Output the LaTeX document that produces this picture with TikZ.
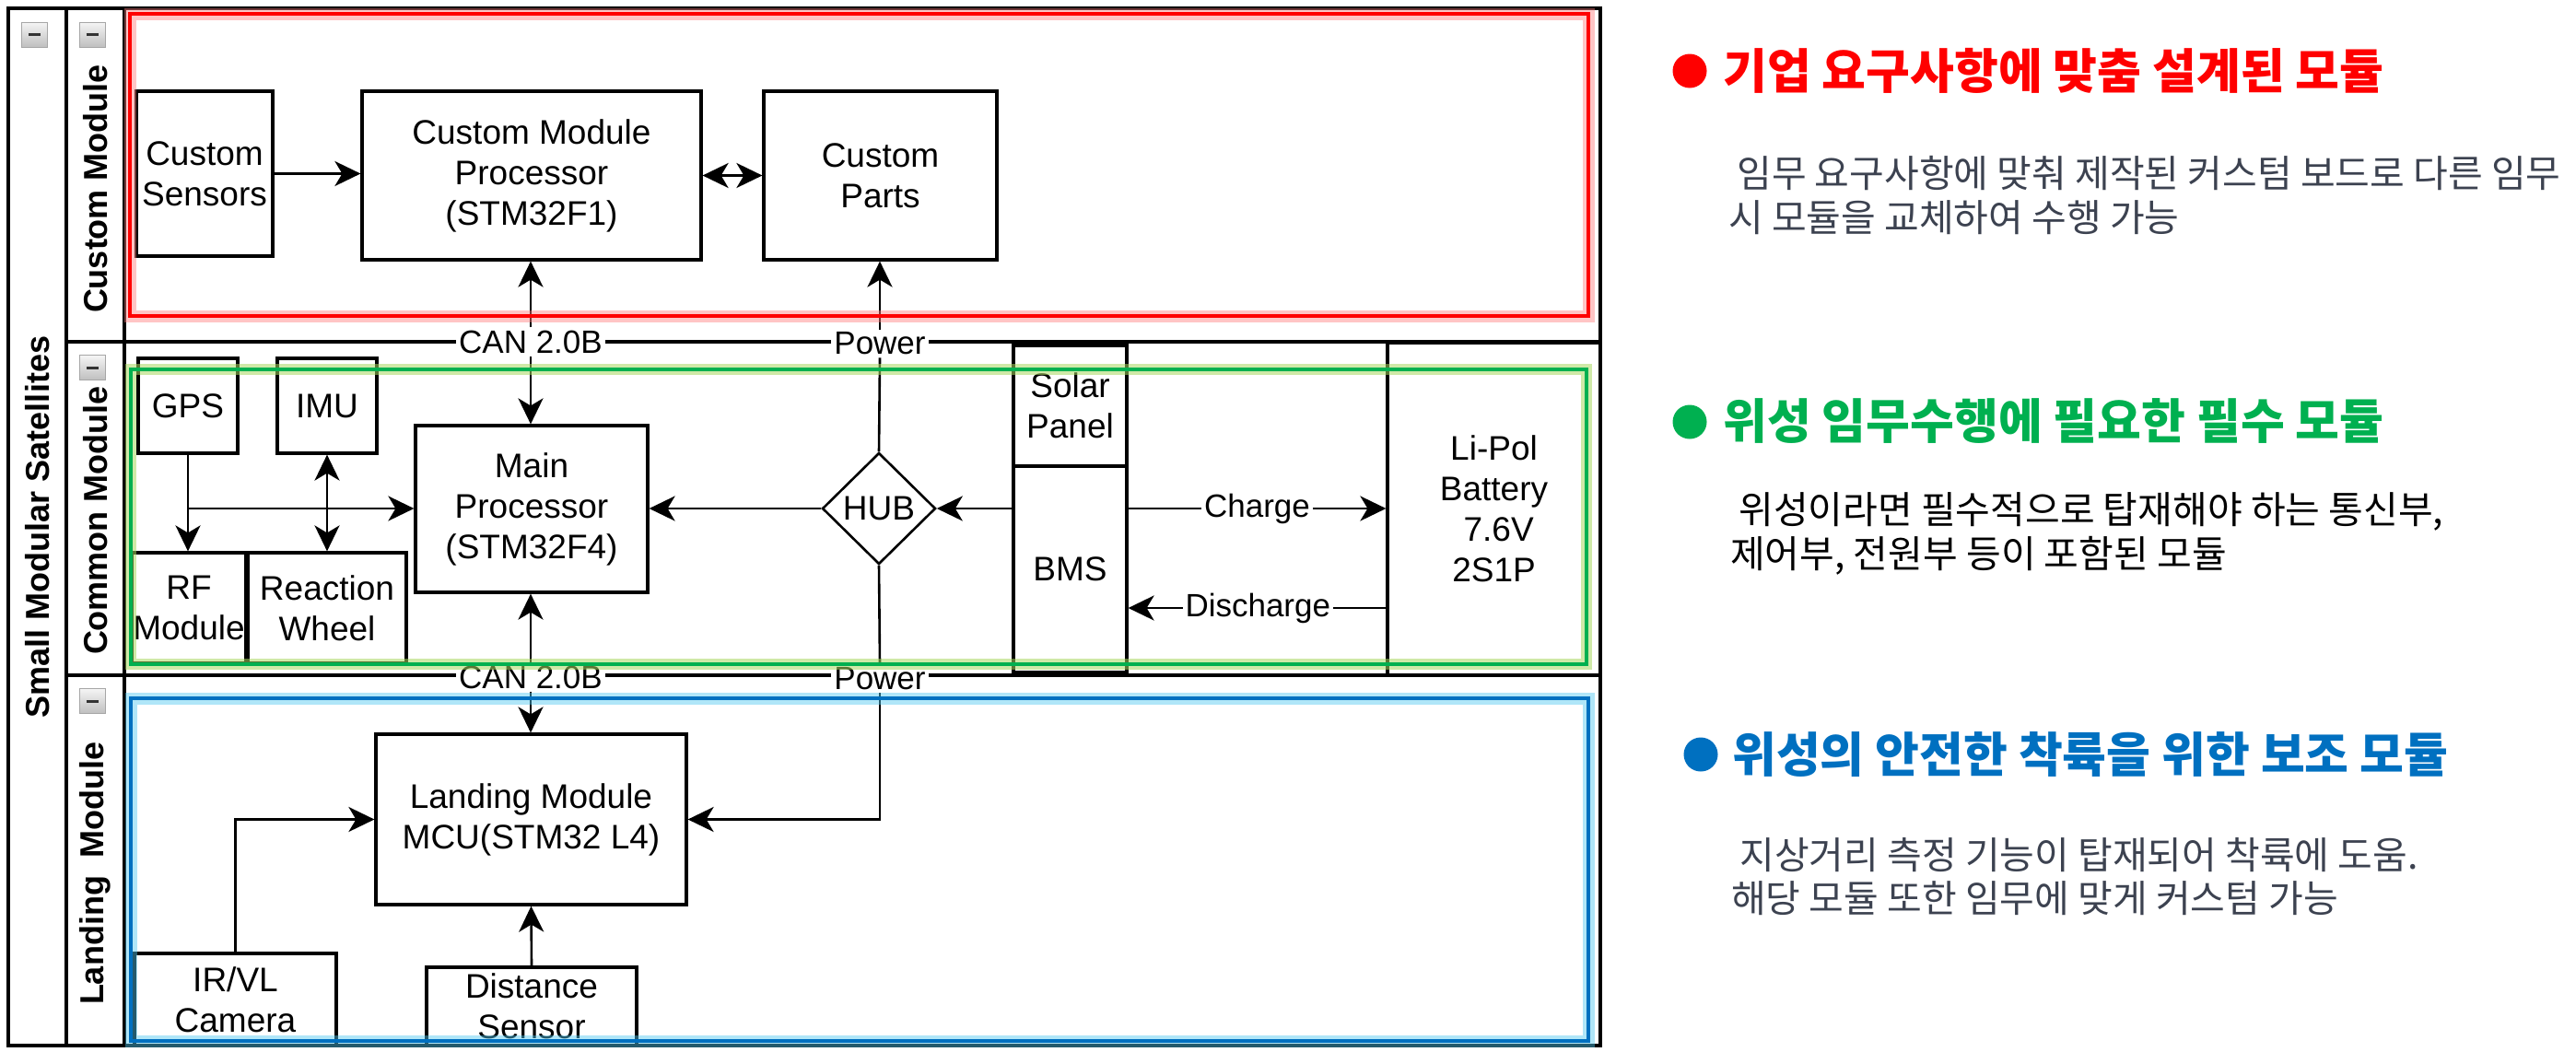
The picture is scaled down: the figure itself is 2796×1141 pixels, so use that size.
\documentclass[tikz,border=0pt]{standalone}
\usepackage{fontspec}
\setmainfont{Liberation Sans}
\newfontfamily\kr{Noto Sans CJK KR}
\usetikzlibrary{arrows.meta,shapes.geometric,calc}
\definecolor{cred}{HTML}{FF0000}
\definecolor{cgreen}{HTML}{00B050}
\definecolor{cblue}{HTML}{0070C0}
\definecolor{gred}{HTML}{FF8080}
\definecolor{ggreen}{HTML}{A8D860}
\definecolor{gblue}{HTML}{50C8F0}
\definecolor{bodygray}{HTML}{3C4250}
\newcommand{\dfont}{\fontsize{37}{44}\selectfont}
\newcommand{\efont}{\fontsize{35}{42}\selectfont}
\newcommand{\lfont}{\bfseries\fontsize{36}{43}\selectfont}
\newcommand{\hfont}{\kr\bfseries\fontsize{52}{60}\selectfont}
\newcommand{\bfont}{\kr\fontsize{41}{48}\selectfont}
\begin{document}
\begin{tikzpicture}[x=1pt,y=-1pt,
  blk/.style={draw=black, line width=3.2pt, fill=white, font=\dfont, align=center, inner sep=0pt},
  frm/.style={line width=3.2pt, draw=black},
  ln/.style={line width=2.6pt},
  arr/.style={line width=2.6pt, -{Stealth[length=28pt,width=27pt,inset=8pt]}},
  darr/.style={line width=2.6pt, {Stealth[length=28pt,width=27pt,inset=8pt]}-{Stealth[length=28pt,width=27pt,inset=8pt]}},
  lbl/.style={fill=white, font=\efont, inner sep=3pt},
  lane/.style={rotate=90, font=\lfont, inner sep=0pt},
  icon/.style={draw=gray!70, line width=1pt, top color=gray!8, bottom color=gray!50, minimum width=28pt, minimum height=27pt, inner sep=0pt},
  head/.style={anchor=base west, inner sep=0pt, font=\hfont},
  body/.style={anchor=base west, inner sep=0pt, font=\bfont},
]
\useasboundingbox (0,0) rectangle (2796,1141);
\fill[white] (0,0) rectangle (2796,1141);

% ---------- swimlane frame ----------
\draw[frm] (9,9) rectangle (1737,1135);
\draw[frm] (72,9) -- (72,1135);
\draw[frm] (135,9) -- (135,1135);
\draw[frm] (72,371) -- (1737,371);
\draw[frm] (72,733) -- (1737,733);

% collapse icons
\node[icon] (ic0) at (37.5,37.5) {\textcolor{black!80}{\rule[-1.5pt]{13pt}{3pt}}};
\node[icon] (ic1) at (100,37.5) {\textcolor{black!80}{\rule[-1.5pt]{13pt}{3pt}}};
\node[icon] (ic2) at (100,399) {\textcolor{black!80}{\rule[-1.5pt]{13pt}{3pt}}};
\node[icon] (ic3) at (100,761) {\textcolor{black!80}{\rule[-1.5pt]{13pt}{3pt}}};

% lane labels
\node[lane] (lsat) at (40.5,572) {Small Modular Satellites};
\node[lane] (lcus) at (103.5,205) {Custom Module};
\node[lane] (lcom) at (103.5,565) {Common Module};
\node[lane] (llan) at (103.5,948) {Landing\hspace{20pt}Module};

% ---------- Custom module ----------
\node[blk, minimum width=148pt, minimum height=179pt] (cs) at (222,188.5) {Custom\\Sensors};
\node[blk, minimum width=368pt, minimum height=183pt] (cmp) at (577,190.5) {Custom Module\\Processor\\(STM32F1)};
\node[blk, minimum width=253pt, minimum height=183pt] (cp) at (955.5,190.5) {Custom\\Parts};

% ---------- Common module ----------
\node[blk, minimum width=108pt, minimum height=103pt] (gps) at (204,440.5) {GPS};
\node[blk, minimum width=108pt, minimum height=103pt] (imu) at (355,440.5) {IMU};
\node[blk, minimum width=252pt, minimum height=181pt] (mp) at (577,552.5) {Main\\Processor\\(STM32F4)};
\node[blk, minimum width=124pt, minimum height=120pt] (rf) at (205,660) {RF\\Module};
\node[blk, minimum width=172pt, minimum height=120pt] (rw) at (355,660) {Reaction\\Wheel};
\node[draw=black, diamond, line width=2.6pt, fill=white, minimum width=123pt, minimum height=121pt, inner sep=0pt, font=\dfont] (hub) at (954,552) {HUB};
\node[blk, minimum width=123pt, minimum height=131pt] (sp) at (1161.5,440.5) {Solar\\Panel};
\node[blk, minimum width=123pt, minimum height=224pt] (bms) at (1161.5,618) {BMS};
\node[blk, minimum width=231pt, minimum height=361pt] (bat) at (1621.5,552.5) {Li-Pol\\Battery\\~7.6V\\2S1P};

% ---------- Landing module ----------
\node[blk, minimum width=337pt, minimum height=185pt] (lmm) at (576.5,889.5) {Landing Module\\MCU(STM32 L4)};
\node[blk, minimum width=219pt, minimum height=100pt] (cam) at (255.5,1085) {IR/VL\\Camera};
\node[blk, minimum width=228pt, minimum height=85pt] (ds) at (577,1092.5) {Distance\\Sensor};

% ---------- bus labels ----------
\node[lbl] (can1) at (576,371) {CAN 2.0B};
\node[lbl] (can2) at (576,735) {CAN 2.0B};
\node[lbl] (pw1) at (955,373) {Power};
\node[lbl] (pw2) at (955,737) {Power};

% ---------- connectors ----------
\draw[arr] (cs.east) -- (cs.east -| cmp.west);
\draw[darr] (cmp.east) -- (cmp.east -| cp.west);
\draw[arr] (can1.north) -- (can1.north |- cmp.south);
\draw[arr] (can1.south) -- (can1.south |- mp.north);
\draw[arr] (can2.north) -- (can2.north |- mp.south);
\draw[arr] (can2.south) -- (can2.south |- lmm.north);
\draw[arr] (pw1.north) -- (pw1.north |- cp.south);
\draw[ln] (hub.north) -- (pw1.south);
\draw[ln] (hub.south) -- (pw2.north);
\draw[arr] (pw2.south) |- (lmm.east);
\draw[arr] (hub.east -| bms.west) -- (hub.east);
\draw[arr] (hub.west) -- (hub.west -| mp.east);
\draw[arr] (gps.south) -- (gps.south |- rf.north);
\coordinate (gj) at (gps.south |- hub.west);
\draw[arr] (gj) -- (gj -| mp.west);
\draw[darr] (imu.south) -- (imu.south |- rw.north);
\draw[arr] (hub.east -| bms.east) -- (hub.east -| bat.west) node[lbl, midway] (chg) {Charge};
\coordinate (dis) at (1506,660);
\draw[arr] (dis) -- (dis -| bms.east) node[lbl, midway] (dchg) {Discharge};
\draw[arr] (cam.north) |- (lmm.west);
\draw[arr] (ds.north) -- (lmm.south);

% ---------- coloured module frames ----------
\draw[gred, line width=13pt, opacity=0.45] (141,15) rectangle (1724,343);
\draw[cred, line width=4.8pt] (141,15) rectangle (1724,343);
\draw[ggreen, line width=12pt, opacity=0.55] (142,401) rectangle (1722,721);
\draw[cgreen, line width=4pt] (142,401) rectangle (1722,721);
\draw[gblue, line width=13pt, opacity=0.45] (142,758) rectangle (1724,1130);
\draw[cblue, line width=4.8pt] (142,758) rectangle (1724,1130);

% ---------- descriptions ----------
\fill[cred] (1834,77) circle[radius=18.5pt];
\node[head, text=cred] (h1) at (1870,96) {기업 요구사항에 맞춤 설계된 모듈};
\node[body, text=bodygray] (b1a) at (1876,203) {\ 임무 요구사항에 맞춰 제작된 커스텀 보드로 다른 임무};
\node[body, text=bodygray] (b1b) at (1876,251) {시 모듈을 교체하여 수행 가능};

\fill[cgreen] (1834,458) circle[radius=18.5pt];
\node[head, text=cgreen] (h2) at (1870,476) {위성 임무수행에 필요한 필수 모듈};
\node[body, text=black] (b2a) at (1878,568) {\ 위성이라면 필수적으로 탑재해야 하는 통신부,};
\node[body, text=black] (b2b) at (1878,616) {제어부, 전원부 등이 포함된 모듈};

\fill[cblue] (1846,819) circle[radius=18.5pt];
\node[head, text=cblue] (h3) at (1880,838) {위성의 안전한 착륙을 위한 보조 모듈};
\node[body, text=bodygray] (b3a) at (1879,943) {\ 지상거리 측정 기능이 탑재되어 착륙에 도움.};
\node[body, text=bodygray] (b3b) at (1879,990) {해당 모듈 또한 임무에 맞게 커스텀 가능};
\end{tikzpicture}
\end{document}
